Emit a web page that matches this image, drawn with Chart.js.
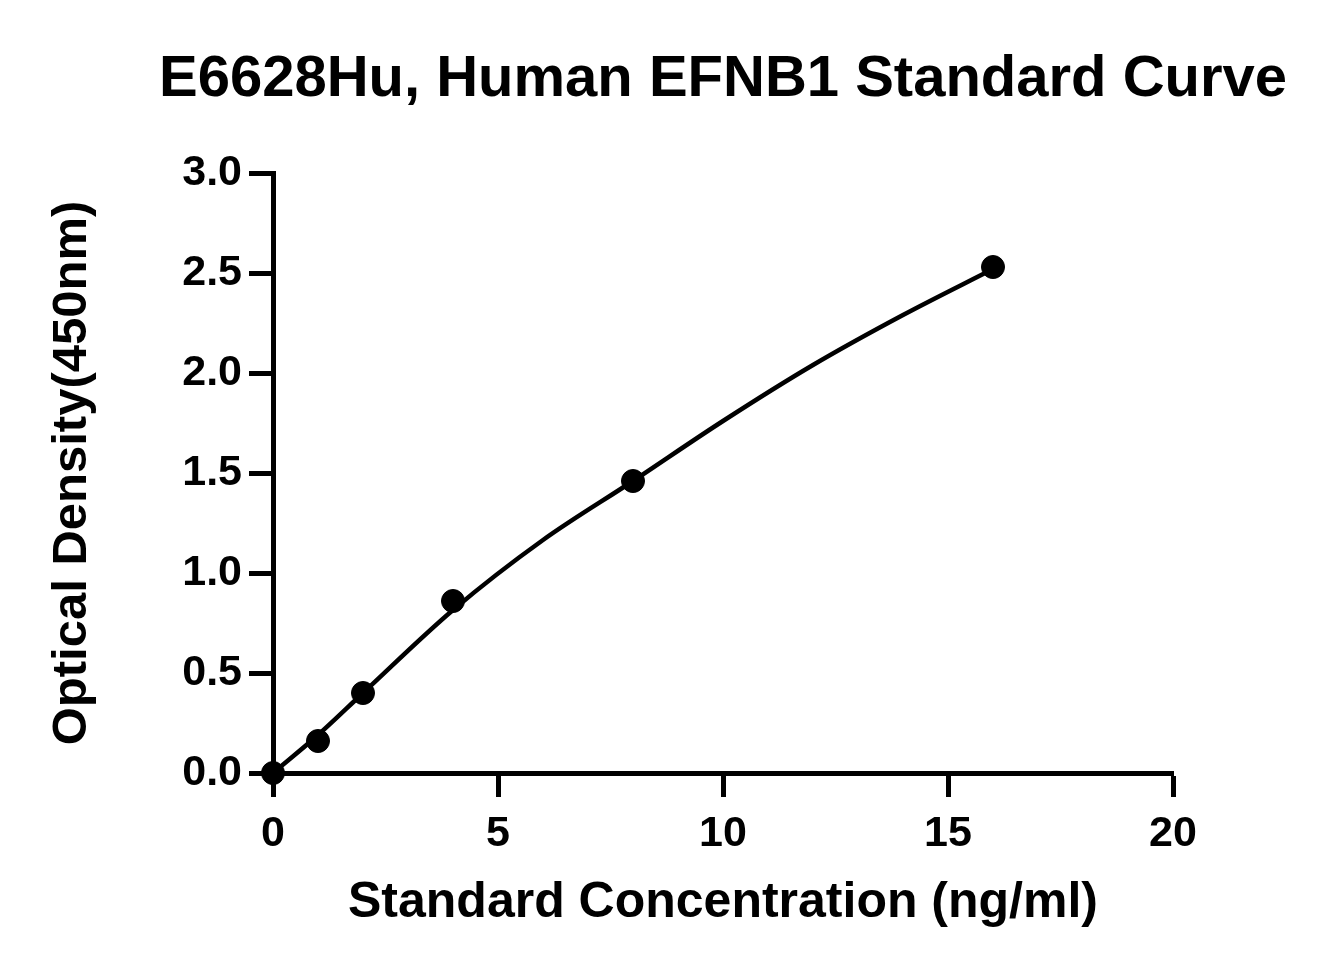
<!DOCTYPE html>
<html>
<head>
<meta charset="utf-8">
<title>E6628Hu, Human EFNB1 Standard Curve</title>
<script src="https://cdn.jsdelivr.net/npm/chart.js@4/dist/chart.umd.min.js"></script>
<style>
  html, body { margin: 0; padding: 0; background: #fff; }
  #wrap { width: 1329px; height: 975px; position: relative; }
</style>
</head>
<body>
<div id="wrap"><canvas id="chartCurva"></canvas></div>
<script>
// valores
const concStd = [0, 1, 2, 4, 8, 16];
const odStd = [0, 0.16, 0.40, 0.86, 1.46, 2.53];

// curva ajustada (leída sobre la línea)
const concCurva = [0, 1, 2, 4, 6, 8, 10, 12, 14, 16];
const odCurva = [0, 0.19, 0.40, 0.815, 1.165, 1.46, 1.76, 2.04, 2.29, 2.52];

const yTicks = [0, 0.5, 1.0, 1.5, 2.0, 2.5, 3.0];
const xTicks = [0, 5, 10, 15, 20];

const TITULO = "E6628Hu, Human EFNB1 Standard Curve";
const FONT = "'Liberation Sans', Arial, Helvetica, sans-serif";
const NEGRO = "#000";

const toXY = (xs, ys) => xs.map((x, i) => ({ x, y: ys[i] }));

// el título va centrado sobre el área del gráfico, sin recorte por ancho
const tituloCentrado = {
  id: "tituloCentrado",
  afterDraw(chart) {
    const { ctx, chartArea } = chart;
    ctx.save();
    ctx.font = `bold 58px ${FONT}`;
    ctx.fillStyle = NEGRO;
    ctx.textAlign = "center";
    ctx.textBaseline = "alphabetic";
    ctx.fillText(TITULO, (chartArea.left + chartArea.right) / 2, 96);
    ctx.restore();
  },
};

const ctx = document.getElementById("chartCurva");

new Chart(ctx, {
  type: "scatter",
  data: {
    datasets: [
      {
        label: "Standard",
        data: toXY(concStd, odStd),
        backgroundColor: NEGRO,
        borderColor: NEGRO,
        borderWidth: 1,
        pointRadius: 11.5,
        pointHoverRadius: 11.5,
        showLine: false,
        clip: false,
      },
      {
        label: "Fit",
        data: toXY(concCurva, odCurva),
        borderColor: NEGRO,
        borderWidth: 4.5,
        pointRadius: 0,
        showLine: true,
        cubicInterpolationMode: "monotone",
        clip: false,
      },
    ],
  },
  plugins: [tituloCentrado],
  options: {
    responsive: true,
    maintainAspectRatio: false,
    devicePixelRatio: 1,
    animation: false,
    layout: { padding: { left: 0, right: 156, top: 173, bottom: 0 } },
    plugins: {
      legend: { display: false },
      tooltip: { enabled: false },
      title: { display: false },
    },
    scales: {
      x: {
        type: "linear",
        min: 0,
        max: 20,
        afterFit: (s) => { s.height = 202; },
        afterBuildTicks: (s) => { s.ticks = xTicks.map((v) => ({ value: v })); },
        border: { display: true, color: NEGRO, width: 5 },
        grid: { drawOnChartArea: false, drawTicks: true, tickLength: 24, tickWidth: 5, tickColor: NEGRO },
        ticks: {
          color: NEGRO,
          padding: 11,
          font: { family: FONT, size: 43, weight: "bold" },
          callback: (v) => String(v),
        },
        title: {
          display: true,
          text: "Standard Concentration (ng/ml)",
          color: NEGRO,
          font: { family: FONT, size: 50, weight: "bold", lineHeight: 1 },
          padding: { top: 0, bottom: 47 },
        },
      },
      y: {
        type: "linear",
        min: 0,
        max: 3,
        afterFit: (s) => { s.width = 273; },
        afterBuildTicks: (s) => { s.ticks = yTicks.map((v) => ({ value: v })); },
        border: { display: true, color: NEGRO, width: 5 },
        grid: { drawOnChartArea: false, drawTicks: true, tickLength: 24, tickWidth: 5, tickColor: NEGRO },
        ticks: {
          color: NEGRO,
          padding: 7,
          font: { family: FONT, size: 43, weight: "bold" },
          callback: (v) => Number(v).toFixed(1),
        },
        title: {
          display: true,
          text: "Optical Density(450nm)",
          color: NEGRO,
          font: { family: FONT, size: 49, weight: "bold", lineHeight: 1 },
          padding: { top: 48, bottom: 0 },
        },
      },
    },
  },
});
</script>
</body>
</html>
